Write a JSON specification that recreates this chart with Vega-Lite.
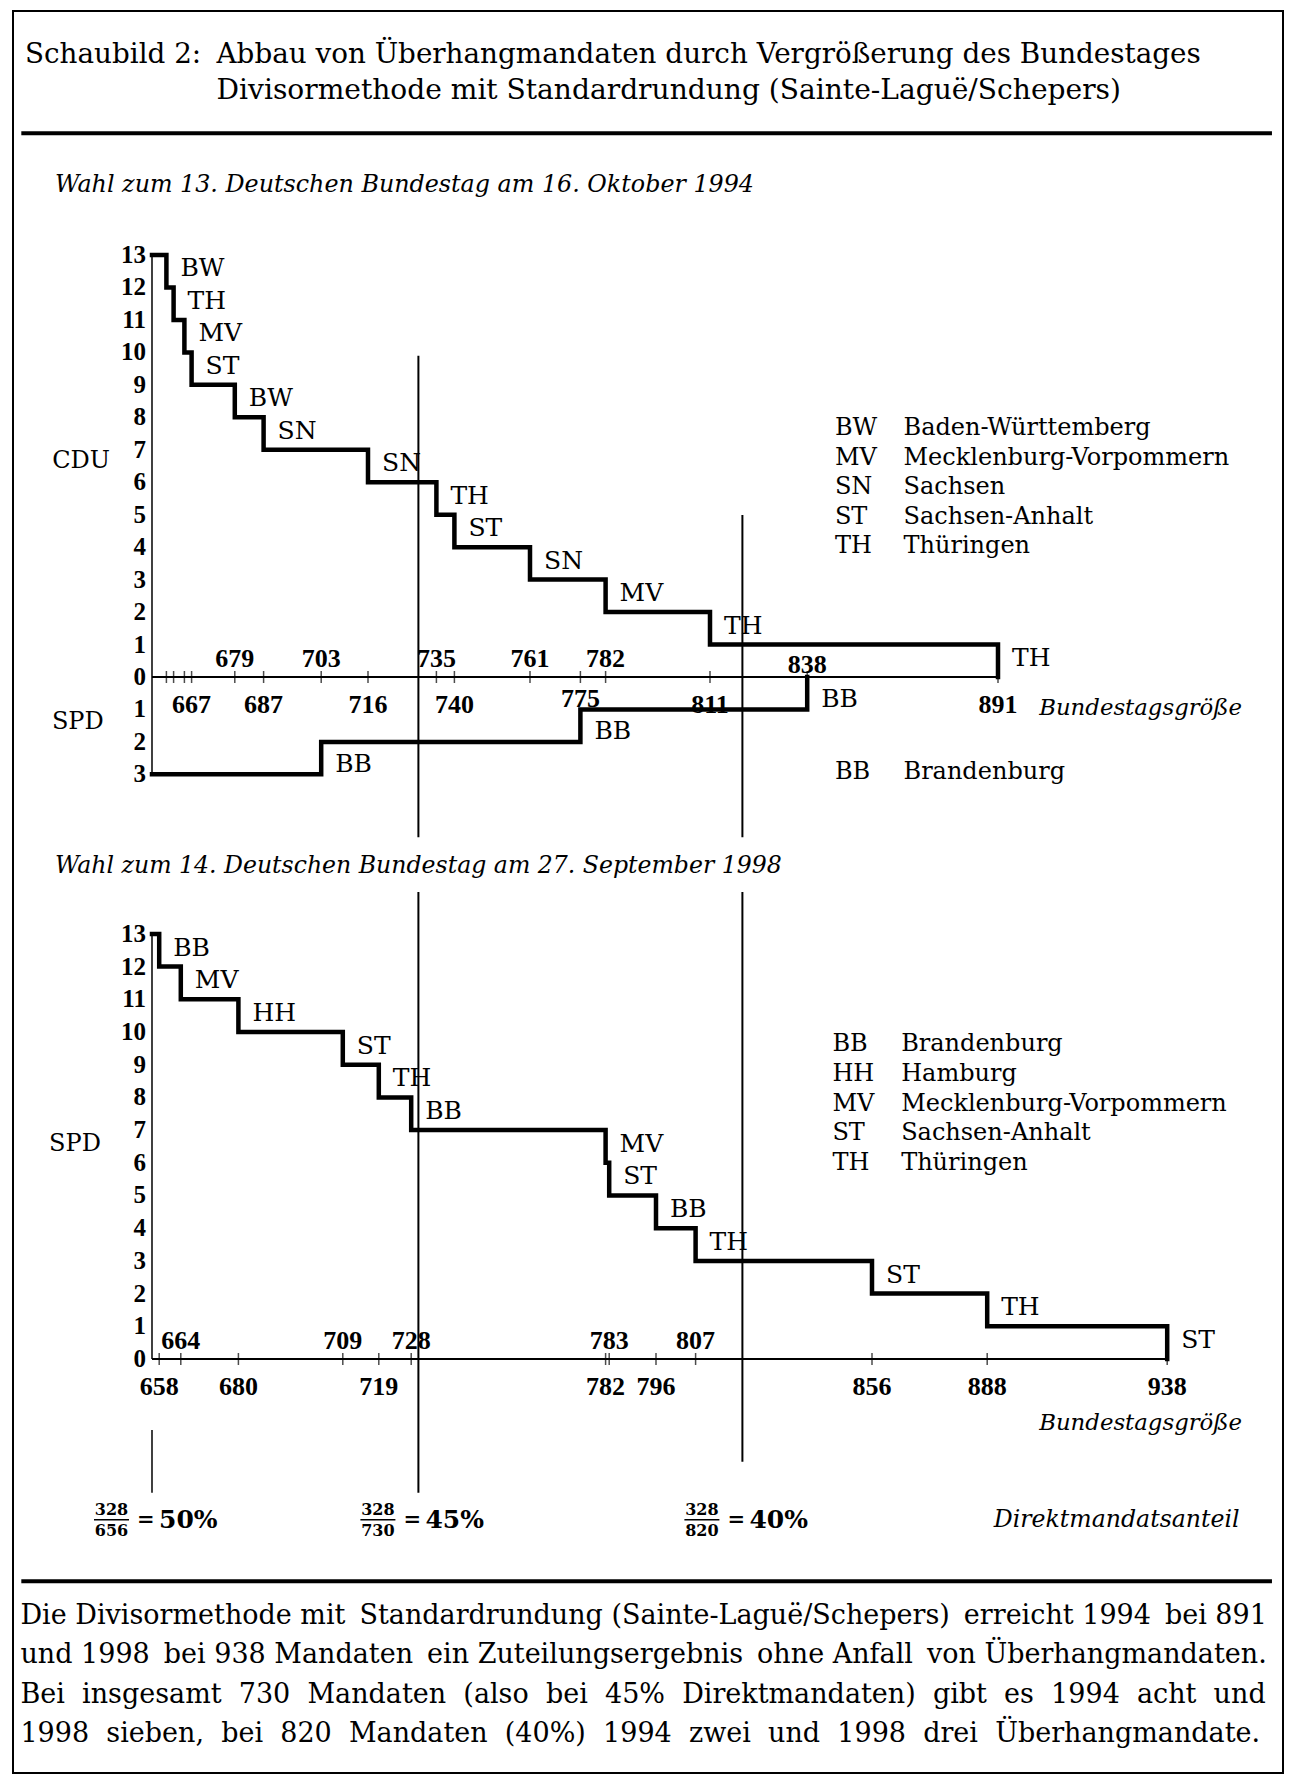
{
  "$schema": "https://vega.github.io/schema/vega-lite/v6.json",
  "width": 1300,
  "height": 1786,
  "autosize": {"type": "fit", "contains": "padding"},
  "padding": {"left": 13, "top": 11, "right": 17, "bottom": 13},
  "background": "white",
  "config": {
    "view": {"stroke": "black", "strokeWidth": 2},
    "text": {"font": "DejaVu Serif", "color": "black"},
    "rule": {"color": "black"},
    "line": {"color": "black"},
    "tick": {"color": "black"}
  },
  "datasets": {
    "cdu94": [
      {"groesse": 656, "sitze": 13, "land": null},
      {"groesse": 660, "sitze": 12, "land": "BW"},
      {"groesse": 662, "sitze": 11, "land": "TH"},
      {"groesse": 665, "sitze": 10, "land": "MV"},
      {"groesse": 667, "sitze": 9, "land": "ST"},
      {"groesse": 679, "sitze": 8, "land": "BW"},
      {"groesse": 687, "sitze": 7, "land": "SN"},
      {"groesse": 716, "sitze": 6, "land": "SN"},
      {"groesse": 735, "sitze": 5, "land": "TH"},
      {"groesse": 740, "sitze": 4, "land": "ST"},
      {"groesse": 761, "sitze": 3, "land": "SN"},
      {"groesse": 782, "sitze": 2, "land": "MV"},
      {"groesse": 811, "sitze": 1, "land": "TH"},
      {"groesse": 891, "sitze": 0, "land": "TH"}
    ],
    "spd94": [
      {"groesse": 656, "sitze": 3, "land": null},
      {"groesse": 703, "sitze": 2, "land": "BB"},
      {"groesse": 775, "sitze": 1, "land": "BB"},
      {"groesse": 838, "sitze": 0, "land": "BB"}
    ],
    "spd98": [
      {"groesse": 656, "sitze": 13, "land": null},
      {"groesse": 658, "sitze": 12, "land": "BB"},
      {"groesse": 664, "sitze": 11, "land": "MV"},
      {"groesse": 680, "sitze": 10, "land": "HH"},
      {"groesse": 709, "sitze": 9, "land": "ST"},
      {"groesse": 719, "sitze": 8, "land": "TH"},
      {"groesse": 728, "sitze": 7, "land": "BB"},
      {"groesse": 782, "sitze": 6, "land": "MV"},
      {"groesse": 783, "sitze": 5, "land": "ST"},
      {"groesse": 796, "sitze": 4, "land": "BB"},
      {"groesse": 807, "sitze": 3, "land": "TH"},
      {"groesse": 856, "sitze": 2, "land": "ST"},
      {"groesse": 888, "sitze": 1, "land": "TH"},
      {"groesse": 938, "sitze": 0, "land": "ST"}
    ],
    "direkt": [
      {"mandate": 656, "direkt": 328, "anteil": 0.5},
      {"mandate": 730, "direkt": 328, "anteil": 0.45},
      {"mandate": 820, "direkt": 328, "anteil": 0.4}
    ],
    "achse": [
      {"wert": 0}, {"wert": 1}, {"wert": 2}, {"wert": 3}, {"wert": 4}, {"wert": 5}, {"wert": 6},
      {"wert": 7}, {"wert": 8}, {"wert": 9}, {"wert": 10}, {"wert": 11}, {"wert": 12}, {"wert": 13}
    ]
  },
  "resolve": {"scale": {"y": "independent"}},
  "layer": [
    {
      "layer": [
        {
          "data": {"values": [{}]},
          "mark": {"type": "text", "align": "left", "baseline": "middle", "fontSize": 27.8},
          "encoding": {
            "x": {"datum": 620.72, "type": "quantitative", "scale": {"domain": [617.389, 970.167], "nice": false, "zero": false}, "axis": null},
            "y": {"datum": 19.17, "type": "quantitative", "scale": {"domain": [-33.765, 20.517], "nice": false, "zero": false}, "axis": null},
            "text": {"value": "Schaubild 2:"}
          }
        },
        {
          "data": {"values": [{}]},
          "mark": {"type": "text", "align": "left", "baseline": "middle", "fontSize": 27.8},
          "encoding": {
            "x": {"datum": 673.92, "type": "quantitative"},
            "y": {"datum": 19.17, "type": "quantitative"},
            "text": {"value": "Abbau von Überhangmandaten durch Vergrößerung des Bundestages"}
          }
        },
        {
          "data": {"values": [{}]},
          "mark": {"type": "text", "align": "left", "baseline": "middle", "fontSize": 28.1},
          "encoding": {
            "x": {"datum": 673.92, "type": "quantitative"},
            "y": {"datum": 18.05, "type": "quantitative"},
            "text": {"value": "Divisormethode mit Standardrundung (Sainte-Laguë/Schepers)"}
          }
        },
        {
          "data": {"values": [{}]},
          "mark": {"type": "rule", "strokeWidth": 4},
          "encoding": {
            "x": {"datum": 619.7, "type": "quantitative"},
            "x2": {"datum": 967.1},
            "y": {"datum": 16.75, "type": "quantitative"}
          }
        },
        {
          "data": {"values": [{}]},
          "mark": {"type": "text", "align": "left", "baseline": "middle", "fontSize": 23.8, "fontStyle": "italic"},
          "encoding": {
            "x": {"datum": 629.06, "type": "quantitative"},
            "y": {"datum": 15.17, "type": "quantitative"},
            "text": {"value": "Wahl zum 13. Deutschen Bundestag am 16. Oktober 1994"}
          }
        },
        {
          "data": {"values": [{}]},
          "mark": {"type": "rule", "strokeWidth": 1.5},
          "encoding": {
            "x": {"datum": 656, "type": "quantitative"},
            "y": {"datum": 13, "type": "quantitative"},
            "y2": {"datum": -3}
          }
        },
        {
          "data": {"values": [{}]},
          "mark": {"type": "rule", "strokeWidth": 2},
          "encoding": {
            "x": {"datum": 656, "type": "quantitative"},
            "x2": {"datum": 891},
            "y": {"datum": 0, "type": "quantitative"}
          }
        },
        {
          "data": {"name": "direkt"},
          "transform": [{"filter": "datum.mandate == 730"}],
          "mark": {"type": "rule", "strokeWidth": 2},
          "encoding": {
            "x": {"field": "mandate", "type": "quantitative"},
            "y": {"datum": 9.9, "type": "quantitative"},
            "y2": {"datum": -4.94}
          }
        },
        {
          "data": {"name": "direkt"},
          "transform": [{"filter": "datum.mandate == 820"}],
          "mark": {"type": "rule", "strokeWidth": 2},
          "encoding": {
            "x": {"field": "mandate", "type": "quantitative"},
            "y": {"datum": 4.99, "type": "quantitative"},
            "y2": {"datum": -4.94}
          }
        },
        {
          "data": {"name": "cdu94"},
          "mark": {"type": "line", "interpolate": "step-after", "strokeWidth": 4.5, "strokeJoin": "miter", "strokeCap": "square"},
          "encoding": {
            "x": {"field": "groesse", "type": "quantitative"},
            "y": {"field": "sitze", "type": "quantitative"}
          }
        },
        {
          "data": {"name": "cdu94"},
          "transform": [{"filter": "datum.groesse > 656"}],
          "mark": {"type": "tick", "orient": "vertical", "size": 12, "thickness": 1.5},
          "encoding": {
            "x": {"field": "groesse", "type": "quantitative"},
            "y": {"datum": 0, "type": "quantitative"}
          }
        },
        {
          "data": {"name": "cdu94"},
          "transform": [{"filter": "datum.land != null"}],
          "mark": {"type": "text", "align": "left", "baseline": "middle", "fontSize": 25, "dx": 14, "dy": -19},
          "encoding": {
            "x": {"field": "groesse", "type": "quantitative"},
            "y": {"field": "sitze", "type": "quantitative"},
            "text": {"field": "land"}
          }
        },
        {
          "data": {"name": "cdu94"},
          "transform": [{"filter": {"field": "groesse", "oneOf": [679, 735, 761, 782]}}],
          "mark": {"type": "text", "align": "center", "baseline": "middle", "font": "Liberation Serif", "fontSize": 26, "fontWeight": "bold", "dy": -18},
          "encoding": {
            "x": {"field": "groesse", "type": "quantitative"},
            "y": {"datum": 0, "type": "quantitative"},
            "text": {"field": "groesse", "type": "quantitative", "format": "d"}
          }
        },
        {
          "data": {"name": "cdu94"},
          "transform": [{"filter": {"field": "groesse", "oneOf": [667, 687, 716, 740, 811, 891]}}],
          "mark": {"type": "text", "align": "center", "baseline": "middle", "font": "Liberation Serif", "fontSize": 26, "fontWeight": "bold", "dy": 28},
          "encoding": {
            "x": {"field": "groesse", "type": "quantitative"},
            "y": {"datum": 0, "type": "quantitative"},
            "text": {"field": "groesse", "type": "quantitative", "format": "d"}
          }
        },
        {
          "data": {"name": "achse"},
          "mark": {"type": "text", "align": "right", "baseline": "middle", "font": "Liberation Serif", "fontSize": 25, "fontWeight": "bold", "dx": -6},
          "encoding": {
            "x": {"datum": 656, "type": "quantitative"},
            "y": {"field": "wert", "type": "quantitative"},
            "text": {"field": "wert", "type": "quantitative", "format": "d"}
          }
        },
        {
          "data": {"values": [{}]},
          "mark": {"type": "text", "align": "center", "baseline": "middle", "fontSize": 24},
          "encoding": {
            "x": {"datum": 636.3, "type": "quantitative"},
            "y": {"datum": 6.64, "type": "quantitative"},
            "text": {"value": "CDU"}
          }
        },
        {
          "data": {"values": [{}]},
          "mark": {"type": "text", "align": "left", "baseline": "middle", "fontSize": 24, "lineHeight": 29.5},
          "encoding": {
            "x": {"datum": 845.7, "type": "quantitative"},
            "y": {"datum": 7.66, "type": "quantitative"},
            "text": {"value": ["BW", "MV", "SN", "ST", "TH"]}
          }
        },
        {
          "data": {"values": [{}]},
          "mark": {"type": "text", "align": "left", "baseline": "middle", "fontSize": 24, "lineHeight": 29.5},
          "encoding": {
            "x": {"datum": 864.75, "type": "quantitative"},
            "y": {"datum": 7.66, "type": "quantitative"},
            "text": {"value": ["Baden-Württemberg", "Mecklenburg-Vorpommern", "Sachsen", "Sachsen-Anhalt", "Thüringen"]}
          }
        },
        {
          "data": {"values": [{}]},
          "mark": {"type": "text", "align": "right", "baseline": "middle", "fontSize": 22.8, "fontStyle": "italic"},
          "encoding": {
            "x": {"datum": 958.8, "type": "quantitative"},
            "y": {"datum": -0.943, "type": "quantitative"},
            "text": {"value": "Bundestagsgröße"}
          }
        }
      ]
    },
    {
      "layer": [
        {
          "data": {"name": "spd94"},
          "mark": {"type": "line", "interpolate": "step-after", "strokeWidth": 4.5, "strokeJoin": "miter", "strokeCap": "square"},
          "encoding": {
            "x": {"field": "groesse", "type": "quantitative", "scale": {"domain": [617.389, 970.167], "nice": false, "zero": false}, "axis": null},
            "y": {"field": "sitze", "type": "quantitative", "scale": {"domain": [-20.517, 33.765], "nice": false, "zero": false, "reverse": true}, "axis": null}
          }
        },
        {
          "data": {"name": "spd94"},
          "transform": [{"filter": "datum.groesse > 656"}],
          "mark": {"type": "tick", "orient": "vertical", "size": 12, "thickness": 1.5},
          "encoding": {
            "x": {"field": "groesse", "type": "quantitative"},
            "y": {"datum": 0, "type": "quantitative"}
          }
        },
        {
          "data": {"name": "spd94"},
          "transform": [{"filter": "datum.land != null"}],
          "mark": {"type": "text", "align": "left", "baseline": "middle", "fontSize": 25, "dx": 14, "dy": 22},
          "encoding": {
            "x": {"field": "groesse", "type": "quantitative"},
            "y": {"field": "sitze", "type": "quantitative"},
            "text": {"field": "land"}
          }
        },
        {
          "data": {"name": "spd94"},
          "transform": [{"filter": {"field": "groesse", "oneOf": [703]}}],
          "mark": {"type": "text", "align": "center", "baseline": "middle", "font": "Liberation Serif", "fontSize": 26, "fontWeight": "bold", "dy": -18},
          "encoding": {
            "x": {"field": "groesse", "type": "quantitative"},
            "y": {"datum": 0, "type": "quantitative"},
            "text": {"field": "groesse", "type": "quantitative", "format": "d"}
          }
        },
        {
          "data": {"name": "spd94"},
          "transform": [{"filter": {"field": "groesse", "oneOf": [838]}}],
          "mark": {"type": "text", "align": "center", "baseline": "middle", "font": "Liberation Serif", "fontSize": 26, "fontWeight": "bold", "dy": -12},
          "encoding": {
            "x": {"field": "groesse", "type": "quantitative"},
            "y": {"datum": 0, "type": "quantitative"},
            "text": {"field": "groesse", "type": "quantitative", "format": "d"}
          }
        },
        {
          "data": {"name": "spd94"},
          "transform": [{"filter": {"field": "groesse", "oneOf": [775]}}],
          "mark": {"type": "text", "align": "center", "baseline": "middle", "font": "Liberation Serif", "fontSize": 26, "fontWeight": "bold", "dy": 22},
          "encoding": {
            "x": {"field": "groesse", "type": "quantitative"},
            "y": {"datum": 0, "type": "quantitative"},
            "text": {"field": "groesse", "type": "quantitative", "format": "d"}
          }
        },
        {
          "data": {"name": "achse"},
          "transform": [{"filter": "datum.wert >= 1 && datum.wert <= 3"}],
          "mark": {"type": "text", "align": "right", "baseline": "middle", "font": "Liberation Serif", "fontSize": 25, "fontWeight": "bold", "dx": -6},
          "encoding": {
            "x": {"datum": 656, "type": "quantitative"},
            "y": {"field": "wert", "type": "quantitative"},
            "text": {"field": "wert", "type": "quantitative", "format": "d"}
          }
        },
        {
          "data": {"values": [{}]},
          "mark": {"type": "text", "align": "center", "baseline": "middle", "fontSize": 24},
          "encoding": {
            "x": {"datum": 635.4, "type": "quantitative"},
            "y": {"datum": 1.4, "type": "quantitative"},
            "text": {"value": "SPD"}
          }
        },
        {
          "data": {"values": [{}]},
          "mark": {"type": "text", "align": "left", "baseline": "middle", "fontSize": 24},
          "encoding": {
            "x": {"datum": 845.7, "type": "quantitative"},
            "y": {"datum": 2.94, "type": "quantitative"},
            "text": {"value": "BB"}
          }
        },
        {
          "data": {"values": [{}]},
          "mark": {"type": "text", "align": "left", "baseline": "middle", "fontSize": 24},
          "encoding": {
            "x": {"datum": 864.75, "type": "quantitative"},
            "y": {"datum": 2.94, "type": "quantitative"},
            "text": {"value": "Brandenburg"}
          }
        }
      ]
    },
    {
      "layer": [
        {
          "data": {"values": [{}]},
          "mark": {"type": "text", "align": "left", "baseline": "middle", "fontSize": 23.6, "fontStyle": "italic"},
          "encoding": {
            "x": {"datum": 629.06, "type": "quantitative", "scale": {"domain": [617.389, 970.167], "nice": false, "zero": false}, "axis": null},
            "y": {"datum": 15.08, "type": "quantitative", "scale": {"domain": [-12.661, 41.223], "nice": false, "zero": false}, "axis": null},
            "text": {"value": "Wahl zum 14. Deutschen Bundestag am 27. September 1998"}
          }
        },
        {
          "data": {"values": [{}]},
          "mark": {"type": "rule", "strokeWidth": 1.5},
          "encoding": {
            "x": {"datum": 656, "type": "quantitative"},
            "y": {"datum": 13, "type": "quantitative"},
            "y2": {"datum": 0}
          }
        },
        {
          "data": {"values": [{}]},
          "mark": {"type": "rule", "strokeWidth": 2},
          "encoding": {
            "x": {"datum": 656, "type": "quantitative"},
            "x2": {"datum": 938},
            "y": {"datum": 0, "type": "quantitative"}
          }
        },
        {
          "data": {"name": "direkt"},
          "transform": [{"filter": "datum.mandate == 730"}],
          "mark": {"type": "rule", "strokeWidth": 2},
          "encoding": {
            "x": {"field": "mandate", "type": "quantitative"},
            "y": {"datum": 14.28, "type": "quantitative"},
            "y2": {"datum": -4.09}
          }
        },
        {
          "data": {"name": "direkt"},
          "transform": [{"filter": "datum.mandate == 820"}],
          "mark": {"type": "rule", "strokeWidth": 2},
          "encoding": {
            "x": {"field": "mandate", "type": "quantitative"},
            "y": {"datum": 14.28, "type": "quantitative"},
            "y2": {"datum": -3.14}
          }
        },
        {
          "data": {"name": "direkt"},
          "transform": [{"filter": "datum.mandate == 656"}],
          "mark": {"type": "rule", "strokeWidth": 1.5},
          "encoding": {
            "x": {"field": "mandate", "type": "quantitative"},
            "y": {"datum": -2.17, "type": "quantitative"},
            "y2": {"datum": -4.09}
          }
        },
        {
          "data": {"name": "spd98"},
          "mark": {"type": "line", "interpolate": "step-after", "strokeWidth": 4.5, "strokeJoin": "miter", "strokeCap": "square"},
          "encoding": {
            "x": {"field": "groesse", "type": "quantitative"},
            "y": {"field": "sitze", "type": "quantitative"}
          }
        },
        {
          "data": {"name": "spd98"},
          "transform": [{"filter": "datum.groesse > 656"}],
          "mark": {"type": "tick", "orient": "vertical", "size": 12, "thickness": 1.5},
          "encoding": {
            "x": {"field": "groesse", "type": "quantitative"},
            "y": {"datum": 0, "type": "quantitative"}
          }
        },
        {
          "data": {"name": "spd98"},
          "transform": [{"filter": "datum.land != null"}],
          "mark": {"type": "text", "align": "left", "baseline": "middle", "fontSize": 25, "dx": 14, "dy": -19},
          "encoding": {
            "x": {"field": "groesse", "type": "quantitative"},
            "y": {"field": "sitze", "type": "quantitative"},
            "text": {"field": "land"}
          }
        },
        {
          "data": {"name": "spd98"},
          "transform": [{"filter": {"field": "groesse", "oneOf": [664, 709, 728, 783, 807]}}],
          "mark": {"type": "text", "align": "center", "baseline": "middle", "font": "Liberation Serif", "fontSize": 26, "fontWeight": "bold", "dy": -18},
          "encoding": {
            "x": {"field": "groesse", "type": "quantitative"},
            "y": {"datum": 0, "type": "quantitative"},
            "text": {"field": "groesse", "type": "quantitative", "format": "d"}
          }
        },
        {
          "data": {"name": "spd98"},
          "transform": [{"filter": {"field": "groesse", "oneOf": [658, 680, 719, 782, 796, 856, 888, 938]}}],
          "mark": {"type": "text", "align": "center", "baseline": "middle", "font": "Liberation Serif", "fontSize": 26, "fontWeight": "bold", "dy": 28},
          "encoding": {
            "x": {"field": "groesse", "type": "quantitative"},
            "y": {"datum": 0, "type": "quantitative"},
            "text": {"field": "groesse", "type": "quantitative", "format": "d"}
          }
        },
        {
          "data": {"name": "achse"},
          "mark": {"type": "text", "align": "right", "baseline": "middle", "font": "Liberation Serif", "fontSize": 25, "fontWeight": "bold", "dx": -6},
          "encoding": {
            "x": {"datum": 656, "type": "quantitative"},
            "y": {"field": "wert", "type": "quantitative"},
            "text": {"field": "wert", "type": "quantitative", "format": "d"}
          }
        },
        {
          "data": {"values": [{}]},
          "mark": {"type": "text", "align": "center", "baseline": "middle", "fontSize": 24},
          "encoding": {
            "x": {"datum": 634.6, "type": "quantitative"},
            "y": {"datum": 6.57, "type": "quantitative"},
            "text": {"value": "SPD"}
          }
        },
        {
          "data": {"values": [{}]},
          "mark": {"type": "text", "align": "left", "baseline": "middle", "fontSize": 24, "lineHeight": 29.6},
          "encoding": {
            "x": {"datum": 845.0, "type": "quantitative"},
            "y": {"datum": 9.62, "type": "quantitative"},
            "text": {"value": ["BB", "HH", "MV", "ST", "TH"]}
          }
        },
        {
          "data": {"values": [{}]},
          "mark": {"type": "text", "align": "left", "baseline": "middle", "fontSize": 24, "lineHeight": 29.6},
          "encoding": {
            "x": {"datum": 864.1, "type": "quantitative"},
            "y": {"datum": 9.62, "type": "quantitative"},
            "text": {"value": ["Brandenburg", "Hamburg", "Mecklenburg-Vorpommern", "Sachsen-Anhalt", "Thüringen"]}
          }
        },
        {
          "data": {"values": [{}]},
          "mark": {"type": "text", "align": "right", "baseline": "middle", "fontSize": 22.8, "fontStyle": "italic"},
          "encoding": {
            "x": {"datum": 958.8, "type": "quantitative"},
            "y": {"datum": -1.957, "type": "quantitative"},
            "text": {"value": "Bundestagsgröße"}
          }
        },
        {
          "data": {"name": "direkt"},
          "mark": {"type": "text", "align": "center", "baseline": "middle", "fontSize": 16, "fontWeight": "bold", "dx": -40.5, "dy": -10},
          "encoding": {
            "x": {"field": "mandate", "type": "quantitative"},
            "y": {"datum": -4.92, "type": "quantitative"},
            "text": {"field": "direkt", "type": "quantitative", "format": "d"}
          }
        },
        {
          "data": {"name": "direkt"},
          "mark": {"type": "text", "align": "center", "baseline": "middle", "fontSize": 16, "fontWeight": "bold", "dx": -40.5, "dy": 11},
          "encoding": {
            "x": {"field": "mandate", "type": "quantitative"},
            "y": {"datum": -4.92, "type": "quantitative"},
            "text": {"field": "mandate", "type": "quantitative", "format": "d"}
          }
        },
        {
          "data": {"name": "direkt"},
          "mark": {"type": "rule", "strokeWidth": 1.5, "xOffset": -58, "x2Offset": -23},
          "encoding": {
            "x": {"field": "mandate", "type": "quantitative"},
            "x2": {"field": "mandate"},
            "y": {"datum": -4.92, "type": "quantitative"}
          }
        },
        {
          "data": {"name": "direkt"},
          "mark": {"type": "text", "align": "left", "baseline": "middle", "fontSize": 21, "fontWeight": "bold", "dx": -15},
          "encoding": {
            "x": {"field": "mandate", "type": "quantitative"},
            "y": {"datum": -4.92, "type": "quantitative"},
            "text": {"value": "="}
          }
        },
        {
          "data": {"name": "direkt"},
          "mark": {"type": "text", "align": "left", "baseline": "middle", "fontSize": 25, "fontWeight": "bold", "dx": 7},
          "encoding": {
            "x": {"field": "mandate", "type": "quantitative"},
            "y": {"datum": -4.92, "type": "quantitative"},
            "text": {"field": "anteil", "type": "quantitative", "format": ".0%"}
          }
        },
        {
          "data": {"values": [{}]},
          "mark": {"type": "text", "align": "right", "baseline": "middle", "fontSize": 23.6, "fontStyle": "italic"},
          "encoding": {
            "x": {"datum": 958.1, "type": "quantitative"},
            "y": {"datum": -4.92, "type": "quantitative"},
            "text": {"value": "Direktmandatsanteil"}
          }
        },
        {
          "data": {"values": [{}]},
          "mark": {"type": "rule", "strokeWidth": 4},
          "encoding": {
            "x": {"datum": 619.7, "type": "quantitative"},
            "x2": {"datum": 967.1},
            "y": {"datum": -6.8, "type": "quantitative"}
          }
        },
        {
          "data": {"values": [{}]},
          "mark": {"type": "text", "align": "left", "baseline": "middle", "fontSize": 27, "lineHeight": 39.5},
          "encoding": {
            "x": {"datum": 619.45, "type": "quantitative"},
            "y": {"datum": -7.85, "type": "quantitative"},
            "text": {"value": [
              "Die Divisormethode mit\u2009 Standardrundung (Sainte-Laguë/Schepers)\u2009 erreicht 1994\u2009 bei 891",
              "und 1998\u2009 bei 938 Mandaten\u2009 ein Zuteilungsergebnis\u2009 ohne Anfall\u2009 von Überhangmandaten.",
              "Bei\u00a0\u00a0insgesamt\u00a0\u00a0730\u00a0\u00a0Mandaten\u00a0\u00a0(also\u00a0\u00a0bei\u00a0\u00a045%\u00a0\u00a0Direktmandaten)\u00a0\u00a0gibt\u00a0\u00a0es\u00a0\u00a01994\u00a0\u00a0acht\u00a0\u00a0und",
              "1998\u00a0\u00a0sieben,\u00a0\u00a0bei\u00a0\u00a0820\u00a0\u00a0Mandaten\u00a0\u00a0(40%)\u00a0\u00a01994\u00a0\u00a0zwei\u00a0\u00a0und\u00a0\u00a01998\u00a0\u00a0drei\u00a0\u00a0Überhangmandate."
            ]}
          }
        }
      ]
    }
  ]
}
